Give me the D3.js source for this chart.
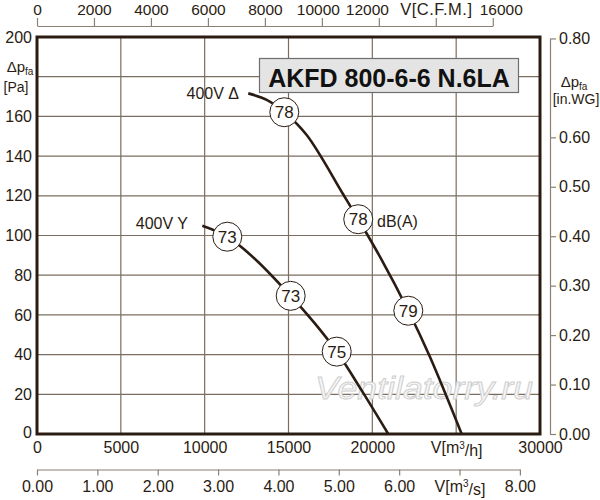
<!DOCTYPE html>
<html>
<head>
<meta charset="utf-8">
<script src="https://cdn.jsdelivr.net/npm/d3@7"></script>
<style>
  body { margin: 0; background: #fff; }
  svg { font-family: "Liberation Sans", Arial, sans-serif; }
</style>
</head>
<body>
<div id="chart"></div>
<script>
// curve 400V Δ (flow m3/h, pressure Pa)
const deltaFlow = [12600, 13700, 14750, 16085, 18250, 19160, 20460, 22145, 23440, 25330];
const deltaPres = [171.6, 168.3, 162.1, 150.6, 120.9, 108.2, 89.2, 62.1, 38.8, 0];
// curve 400V Y
const starFlow = [9860, 11350, 13000, 15130, 16520, 17875, 19380, 20950];
const starPres = [104.9, 99.4, 88.2, 69.6, 56.2, 41.5, 21.7, 0];
// noise markers dB(A)
const markerFlow = [14750, 19160, 22145, 11350, 15130, 17875];
const markerPres = [162.1, 108.2, 62.1, 99.4, 69.6, 41.5];
const markerText = ['78', '78', '79', '73', '73', '75'];

const flowTicks = [0, 5000, 10000, 15000, 20000, 25000, 30000];
const presTicks = [0, 20, 40, 60, 80, 100, 120, 140, 160, 180, 200];
const presLabels = [0, 20, 40, 60, 80, 100, 120, 140, 160, 200];
const cfmTicks = [0, 2000, 4000, 6000, 8000, 10000, 12000, 14000, 16000];
const wgTicks = [0, 0.1, 0.2, 0.3, 0.4, 0.5, 0.6, 0.8];
const m3sTicks = [0, 1, 2, 3, 4, 5, 6, 7, 8];

const W = 600, H = 500;
const margin = { left: 37, right: 60, top: 37, bottom: 66 };
const dark = '#2a1c12';
const gridCol = '#7a6e60';
const axisCol = '#8a8174';

const svg = d3.select('#chart').append('svg')
  .attr('width', W).attr('height', H);

const x = d3.scaleLinear().domain([0, 30000]).range([margin.left, W - margin.right]);
const y = d3.scaleLinear().domain([0, 200]).range([H - margin.bottom, margin.top]);

// grid
svg.append('g').selectAll('line')
  .data(flowTicks.slice(1, -1)).enter().append('line')
  .attr('x1', d => x(d)).attr('x2', d => x(d))
  .attr('y1', y(0)).attr('y2', y(200))
  .attr('stroke', gridCol).attr('stroke-width', 1.2);
svg.append('g').selectAll('line')
  .data(presTicks.slice(1, -1)).enter().append('line')
  .attr('x1', x(0)).attr('x2', x(30000))
  .attr('y1', d => y(d)).attr('y2', d => y(d))
  .attr('stroke', gridCol).attr('stroke-width', 1.2);

// watermark
svg.append('text')
  .attr('x', 315).attr('y', 399)
  .attr('textLength', 218)
  .attr('lengthAdjust', 'spacingAndGlyphs')
  .style('font-size', '31px')
  .style('font-style', 'italic')
  .attr('fill', '#f6f6f6')
  .attr('stroke', '#cfcfcf')
  .attr('stroke-width', 0.9)
  .text('Ventilatorry.ru');

// left axis labels
const yAxis = d3.axisLeft(y).tickValues(presLabels).tickSize(0).tickPadding(5);
const yg = svg.append('g').attr('transform', `translate(${x(0)},0)`).call(yAxis);
yg.select('.domain').remove();
yg.selectAll('text').style('font-size', '16px').attr('fill', dark).attr('font-family', null);
yg.selectAll('.tick').filter(d => d === 0).select('text').attr('dy', '0.2em');

// bottom m3/h labels
const xAxis = d3.axisBottom(x).tickValues(flowTicks).tickSize(0).tickPadding(8)
  .tickFormat(d => d === 25000 ? '' : d);
const xg = svg.append('g').attr('transform', `translate(0,${y(0)})`).call(xAxis);
xg.select('.domain').remove();
xg.selectAll('text').style('font-size', '16px').attr('fill', dark).attr('font-family', null);
const lab1 = xg.selectAll('.tick').filter(d => d === 25000).select('text');
lab1.append('tspan').text('V[m');
lab1.append('tspan').attr('dy', '-0.45em').style('font-size', '10px').text('3');
lab1.append('tspan').attr('dy', '0.45em').text('/h]');

// top CFM axis
const cfmToM3h = 1.69901;
const cfm = d3.scaleLinear().domain([0, 16000]).range([x(0), x(16000 * cfmToM3h)]);
const topAxis = d3.axisTop(cfm).tickValues(cfmTicks).tickSize(8).tickSizeOuter(0).tickPadding(3)
  .tickFormat(d => d === 14000 ? 'V[C.F.M.]' : d);
const tg = svg.append('g').attr('transform', 'translate(0,26)').call(topAxis);
tg.selectAll('line, path').attr('stroke', axisCol).attr('stroke-width', 1.2);
tg.selectAll('text').style('font-size', '15.5px').attr('fill', dark).attr('font-family', null);
tg.selectAll('.tick').filter(d => d === 14000).select('text').style('font-size', '16.5px').style('letter-spacing', '0.5px');
tg.selectAll('.tick').filter(d => d === 10000).select('text').attr('dx', -4);
tg.selectAll('.tick').filter(d => d === 12000).select('text').attr('dx', -12);
tg.selectAll('.tick').filter(d => d === 16000).select('text').attr('dx', 8);

// bottom m3/s axis
const m3s = d3.scaleLinear().domain([0, 8]).range([x(0), x(8 * 3600)]);
const botAxis = d3.axisBottom(m3s).tickValues(m3sTicks).tickSize(6).tickSizeOuter(0).tickPadding(5)
  .tickFormat(d => d === 7 ? '' : d3.format('.2f')(d));
const bg = svg.append('g').attr('transform', 'translate(0,469.5)').call(botAxis);
bg.selectAll('line, path').attr('stroke', axisCol).attr('stroke-width', 1.2);
bg.selectAll('text').style('font-size', '16px').attr('fill', dark).attr('font-family', null);
const lab2 = bg.selectAll('.tick').filter(d => d === 7).select('text');
lab2.append('tspan').text('V[m');
lab2.append('tspan').attr('dy', '-0.45em').style('font-size', '10px').text('3');
lab2.append('tspan').attr('dy', '0.45em').text('/s]');

// right in.WG axis
const wg = d3.scaleLinear().domain([0, 0.8]).range([y(0), y(0.8 * 249.089)]);
const rAxis = d3.axisRight(wg).tickValues(wgTicks).tickSize(6).tickSizeOuter(0).tickPadding(3)
  .tickFormat(d3.format('.2f'));
const rg = svg.append('g').attr('transform', 'translate(550,0)').call(rAxis);
rg.selectAll('line, path').attr('stroke', axisCol).attr('stroke-width', 1.2);
rg.selectAll('text').style('font-size', '16px').attr('fill', dark).attr('font-family', null);

// axis titles
function dpLabel(cx, yb) {
  const t = svg.append('text').attr('x', cx).attr('y', yb)
    .attr('text-anchor', 'middle').attr('fill', dark).style('font-size', '15px');
  t.append('tspan').text('\u0394p');
  t.append('tspan').attr('dy', '0.3em').style('font-size', '10px').text('fa');
}
dpLabel(20, 72);
svg.append('text').attr('x', 16).attr('y', 92).attr('text-anchor', 'middle')
  .attr('fill', dark).style('font-size', '14px').text('[Pa]');
dpLabel(574, 87);
svg.append('text').attr('x', 576).attr('y', 104).attr('text-anchor', 'middle')
  .attr('fill', dark).style('font-size', '14px').text('[in.WG]');

// frame
svg.append('rect')
  .attr('x', x(0)).attr('y', y(200))
  .attr('width', x(30000) - x(0)).attr('height', y(0) - y(200))
  .attr('fill', 'none').attr('stroke', dark).attr('stroke-width', 3);

// title box
svg.append('rect')
  .attr('x', 259.5).attr('y', 58.5).attr('width', 259).attr('height', 34)
  .attr('fill', '#e4e4e4').attr('stroke', '#6e6e6e').attr('stroke-width', 1.2);
svg.append('text')
  .attr('x', 389).attr('y', 86.5).attr('text-anchor', 'middle')
  .style('font-size', '25px').style('font-weight', 'bold').attr('fill', '#111')
  .text('AKFD 800-6-6 N.6LA');

// curves
const line = d3.line()
  .x(d => x(d[0])).y(d => y(d[1]))
  .curve(d3.curveCatmullRom.alpha(0.5));
svg.append('path')
  .datum(d3.zip(deltaFlow, deltaPres))
  .attr('d', line).attr('fill', 'none').attr('stroke', dark).attr('stroke-width', 2.6);
svg.append('path')
  .datum(d3.zip(starFlow, starPres))
  .attr('d', line).attr('fill', 'none').attr('stroke', dark).attr('stroke-width', 2.6);

// curve labels
svg.append('text').attr('x', 239).attr('y', 99).attr('text-anchor', 'end')
  .attr('fill', dark).style('font-size', '16px').text('400V \u0394');
svg.append('text').attr('x', 188).attr('y', 229).attr('text-anchor', 'end')
  .attr('fill', dark).style('font-size', '16px').text('400V Y');
svg.append('text').attr('x', 377).attr('y', 226.5)
  .attr('fill', dark).style('font-size', '16px').text('dB(A)');

// markers
const mk = svg.append('g').selectAll('g')
  .data(d3.range(markerText.length)).enter().append('g')
  .attr('transform', i => `translate(${x(markerFlow[i])},${y(markerPres[i])})`);
mk.append('circle').attr('r', 14.5)
  .attr('fill', '#fff').attr('stroke', dark).attr('stroke-width', 1);
mk.append('text').attr('text-anchor', 'middle').attr('dy', '0.36em')
  .attr('fill', dark).style('font-size', '17px').text(i => markerText[i]);
</script>
</body>
</html>
